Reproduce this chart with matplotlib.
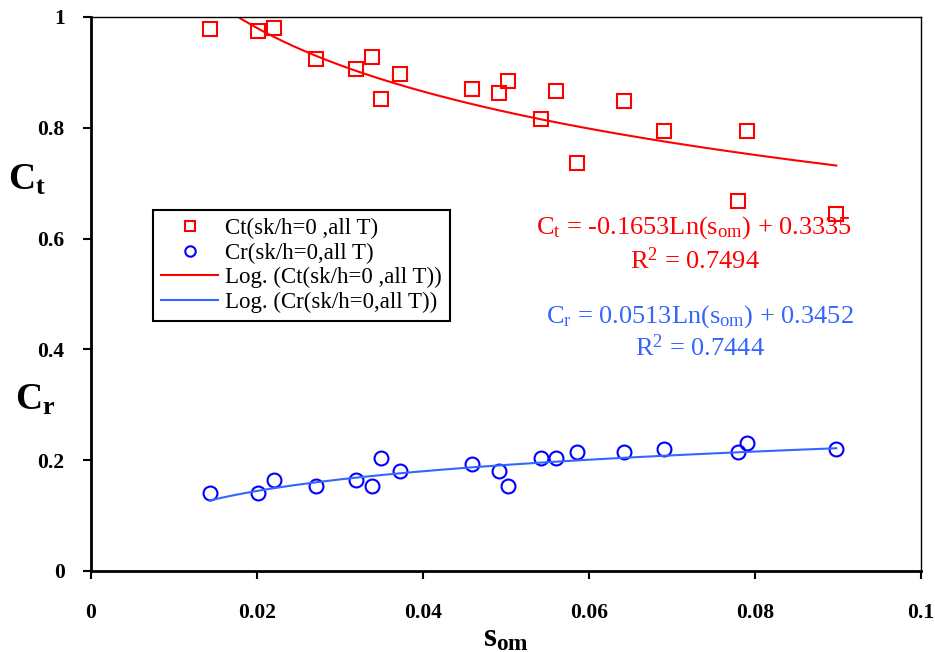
#!/usr/bin/env python3
"""Ct and Cr against s_om with logarithmic trend lines"""

import numpy as np
import matplotlib
matplotlib.use('Agg')
import matplotlib.pyplot as plt

# data
s_om = [0.0143, 0.0201, 0.0221, 0.0271, 0.0319, 0.0339, 0.0349, 0.0372,
        0.0459, 0.0491, 0.0502, 0.0542, 0.0560, 0.0586, 0.0642, 0.0690,
        0.0780, 0.0790, 0.0898]
ct = [0.978, 0.974, 0.981, 0.924, 0.906, 0.927, 0.852, 0.898,
      0.870, 0.862, 0.884, 0.816, 0.866, 0.736, 0.849, 0.795,
      0.668, 0.795, 0.644]
cr = [0.141, 0.141, 0.165, 0.153, 0.165, 0.153, 0.204, 0.181,
      0.193, 0.181, 0.154, 0.204, 0.204, 0.215, 0.215, 0.220,
      0.214, 0.231, 0.220]

# trend line coefficients as printed on the chart
ct_a, ct_b = -0.1653, 0.3335
cr_a, cr_b = 0.0513, 0.3452

x_ticks = [0, 0.02, 0.04, 0.06, 0.08, 0.1]
x_labels = ['0', '0.02', '0.04', '0.06', '0.08', '0.1']
y_ticks = [0, 0.2, 0.4, 0.6, 0.8, 1.0]
y_labels = ['0', '0.2', '0.4', '0.6', '0.8', '1']

RED = '#FF0000'
BLUE = '#0000FF'
LIGHT_BLUE = '#3366FF'


def main():
    """Draw the chart and save it to out.png"""
    plt.rcParams['font.family'] = ['Liberation Serif', 'DejaVu Serif']
    plt.rcParams['mathtext.fontset'] = 'custom'
    plt.rcParams['mathtext.rm'] = 'Liberation Serif'
    plt.rcParams['mathtext.it'] = 'Liberation Serif:italic'
    plt.rcParams['mathtext.bf'] = 'Liberation Serif:bold'

    fig = plt.figure(figsize=(9.35, 6.52), dpi=100)
    ax = fig.add_axes([91 / 935, 1 - 571 / 652, 830 / 935, 554 / 652])

    ax.plot(s_om, ct, linestyle='none', marker='s', markersize=10,
            markerfacecolor='none', markeredgecolor=RED, markeredgewidth=1.5,
            label='Ct(sk/h=0 ,all T)')
    ax.plot(s_om, cr, linestyle='none', marker='o', markersize=10,
            markerfacecolor='none', markeredgecolor=BLUE, markeredgewidth=1.5,
            label='Cr(sk/h=0,all T)')

    xs = np.linspace(min(s_om), max(s_om), 200)
    ax.plot(xs, ct_a * np.log(xs) + ct_b, color=RED, linewidth=1.5,
            label='Log. (Ct(sk/h=0 ,all T))')
    ax.plot(xs, cr_a * np.log(xs) + cr_b, color=LIGHT_BLUE, linewidth=1.5,
            label='Log. (Cr(sk/h=0,all T))')

    ax.set_xlim(0, 0.1)
    ax.set_ylim(0, 1)
    ax.set_xticks(x_ticks)
    ax.set_xticklabels(x_labels, fontsize=15.5, fontweight='bold')
    ax.set_yticks(y_ticks)
    ax.set_yticklabels(y_labels, fontsize=15.5, fontweight='bold')
    ax.tick_params(axis='x', direction='out', length=6, width=1.5, pad=17)
    ax.tick_params(axis='y', direction='out', length=6, width=1.5, pad=13)

    ax.spines['left'].set_linewidth(2)
    ax.spines['bottom'].set_linewidth(2)
    ax.spines['top'].set_linewidth(1)
    ax.spines['right'].set_linewidth(1)

    ax.set_xlabel(r'$\mathbf{s_{om}}$', fontsize=24, labelpad=0)
    fig.text(27 / 935, 1 - 180 / 652, r'$\mathbf{C_t}$', fontsize=27,
             ha='center', va='center')
    fig.text(35 / 935, 1 - 400 / 652, r'$\mathbf{C_r}$', fontsize=27,
             ha='center', va='center')

    ax.text(0.0727, 0.619, r'C$_\mathrm{t}$ = -0.1653Ln(s$_\mathrm{om}$) + 0.3335',
            color=RED, fontsize=19, ha='center', va='center')
    ax.text(0.0727, 0.561, r'R$^\mathrm{2}$ = 0.7494',
            color=RED, fontsize=19, ha='center', va='center')
    ax.text(0.0734, 0.4585, r'C$_\mathrm{r}$ = 0.0513Ln(s$_\mathrm{om}$) + 0.3452',
            color=LIGHT_BLUE, fontsize=19, ha='center', va='center')
    ax.text(0.0734, 0.4025, r'R$^\mathrm{2}$ = 0.7444',
            color=LIGHT_BLUE, fontsize=19, ha='center', va='center')

    leg = ax.legend(loc='upper left', bbox_to_anchor=(0.0747, 0.6516),
                    fontsize=16.5, frameon=True, fancybox=False,
                    edgecolor='black', framealpha=1, markerscale=0.75,
                    handlelength=2.5, handletextpad=0.3, labelspacing=0.15,
                    borderpad=0.35, borderaxespad=0)
    leg.get_frame().set_linewidth(1.5)

    fig.savefig('out.png', dpi=100)
    plt.close(fig)


if __name__ == "__main__":
    main()
